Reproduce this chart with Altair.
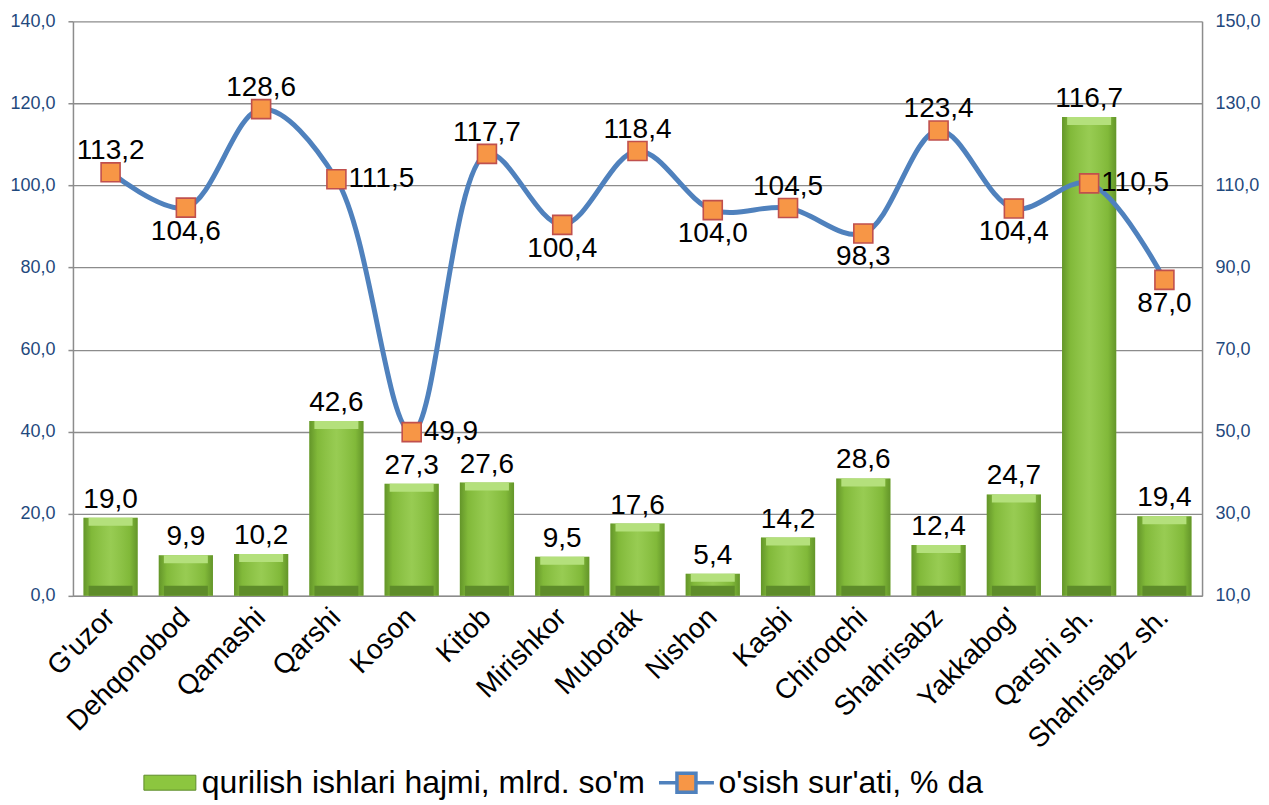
import altair as alt
import pandas as pd

categories = ["G'uzor", "Dehqonobod", "Qamashi", "Qarshi", "Koson", "Kitob",
              "Mirishkor", "Muborak", "Nishon", "Kasbi", "Chiroqchi",
              "Shahrisabz", "Yakkabog'", "Qarshi sh.", "Shahrisabz sh."]
volume = [19.0, 9.9, 10.2, 42.6, 27.3, 27.6, 9.5, 17.6, 5.4, 14.2, 28.6,
          12.4, 24.7, 116.7, 19.4]
growth = [113.2, 104.6, 128.6, 111.5, 49.9, 117.7, 100.4, 118.4, 104.0,
          104.5, 98.3, 123.4, 104.4, 110.5, 87.0]
growth_label_side = ["above", "below", "above", "right", "right", "above",
                     "below", "above", "below", "above", "below", "above",
                     "below", "right", "below"]

bar_name = "qurilish ishlari hajmi, mlrd. so'm"
line_name = "o'sish sur'ati, % da"


def comma(v):
    return f"{v:.1f}".replace(".", ",")


df = pd.DataFrame({
    "district": categories,
    "volume": volume,
    "growth": growth,
    "side": growth_label_side,
})
df["volume_label"] = [comma(v) for v in volume]
df["growth_label"] = [comma(v) for v in growth]
df["bar_series"] = bar_name
df["line_series"] = line_name
df["base_zero"] = 0.0

FONT = "Liberation Sans"
GRID = "#8c8c8c"
AXIS_LABEL = "#1F497D"
LABEL_SIZE = 28
comma_expr = "replace(format(datum.value, '.1f'), '.', ',')"

x_enc = alt.X(
    "district:N", sort=categories, title=None,
    scale=alt.Scale(paddingInner=0.28, paddingOuter=0.14),
    axis=alt.Axis(labelAngle=-45, labelAlign="right", labelBaseline="middle",
                  labelFontSize=28, labelColor="black", labelFont=FONT,
                  ticks=False, domainColor=GRID, domainWidth=1.5,
                  labelPadding=17, labelLimit=400),
)

y_left_scale = alt.Scale(domain=[0, 140], nice=False, zero=True)
y_right_scale = alt.Scale(domain=[10, 150], nice=False, zero=False)

left_axis = alt.Axis(orient="left", values=list(range(0, 141, 20)),
                     labelExpr=comma_expr, title=None, grid=True,
                     gridColor=GRID, gridWidth=1.3, domainColor=GRID,
                     domainWidth=1.5, tickColor=GRID, tickSize=5,
                     tickWidth=1.5, labelColor=AXIS_LABEL, labelFontSize=18,
                     labelFont=FONT, labelPadding=13)
right_axis = alt.Axis(orient="right", values=list(range(10, 151, 20)),
                      labelExpr=comma_expr, title=None, grid=False,
                      domainColor=GRID, domainWidth=1.5, ticks=False,
                      labelColor=AXIS_LABEL, labelFontSize=18,
                      labelFont=FONT, labelPadding=13)

y_vol = alt.Y("volume:Q", scale=y_left_scale, axis=left_axis, title=None)
y_zero = alt.Y("base_zero:Q", scale=y_left_scale, axis=left_axis, title=None)
y_g = alt.Y("growth:Q", scale=y_right_scale, axis=right_axis, title=None)

bar_path = "M-2.6,-0.75H2.6V0.75H-2.6Z"
line_path = "M-2.75,0H-0.95M0.95,0H2.75M-0.95,-0.95H0.95V0.95H-0.95Z"

bar_legend = alt.Legend(
    title=None, orient="none", legendX=81, legendY=746,
    direction="horizontal", labelFontSize=32, labelFont=FONT,
    labelColor="black", labelLimit=700, symbolSize=400, labelOffset=16,
    symbolType=bar_path, symbolStrokeColor="#5E8C2A", symbolStrokeWidth=1,
    symbolOpacity=1,
)
line_legend = alt.Legend(
    title=None, orient="none", legendX=598, legendY=746,
    direction="horizontal", labelFontSize=32, labelFont=FONT,
    labelColor="black", labelLimit=700, symbolSize=400, labelOffset=16,
    symbolType=line_path, symbolFillColor="#F79646", symbolStrokeWidth=3.5,
    symbolOpacity=1,
)

base = alt.Chart(df)

bars = base.mark_bar().encode(
    x=x_enc,
    y=y_vol,
    fill=alt.Fill("bar_series:N",
                  scale=alt.Scale(domain=[bar_name], range=["#8CC63F"]),
                  legend=bar_legend),
)

shade = base.mark_bar(
    fill=alt.Gradient(
        gradient="linear", x1=0, x2=1, y1=0, y2=0,
        stops=[
            alt.GradientStop(offset=0, color="rgba(50,90,15,0.45)"),
            alt.GradientStop(offset=0.15, color="rgba(50,90,15,0.12)"),
            alt.GradientStop(offset=0.5, color="rgba(255,255,255,0.10)"),
            alt.GradientStop(offset=0.85, color="rgba(50,90,15,0.12)"),
            alt.GradientStop(offset=1, color="rgba(50,90,15,0.45)"),
        ],
    )
).encode(x=x_enc, y=y_vol)

top_bevel = base.mark_tick(color="#B4E07C", thickness=8, size=44,
                           yOffset=4, opacity=1).encode(x=x_enc, y=y_vol)

bottom_bevel = base.mark_tick(color="#5E8C2A", thickness=10, size=44,
                              yOffset=-5, opacity=1).encode(x=x_enc, y=y_zero)

bar_text = base.mark_text(baseline="alphabetic", dy=-10, fontSize=LABEL_SIZE,
                          font=FONT, color="black").encode(
    x=x_enc, y=y_vol, text="volume_label:N")

left_layer = alt.layer(bars, shade, top_bevel, bottom_bevel, bar_text)

line = base.mark_line(interpolate="catmull-rom", strokeWidth=5).encode(
    x=x_enc,
    y=y_g,
    stroke=alt.Stroke("line_series:N",
                      scale=alt.Scale(domain=[line_name], range=["#4F81BD"]),
                      legend=line_legend),
)

points = base.mark_square(size=361, fill="#F79646", stroke="#C0504D",
                          strokeWidth=1.6, opacity=1).encode(x=x_enc, y=y_g)

above = base.mark_text(baseline="alphabetic", dy=-13, fontSize=LABEL_SIZE,
                       font=FONT, color="black").encode(
    x=x_enc, y=y_g, text="growth_label:N"
).transform_filter(alt.datum.side == "above")

below = base.mark_text(baseline="top", dy=10, fontSize=LABEL_SIZE,
                       font=FONT, color="black").encode(
    x=x_enc, y=y_g, text="growth_label:N"
).transform_filter(alt.datum.side == "below")

right = base.mark_text(baseline="middle", align="left", dx=12,
                       fontSize=LABEL_SIZE, font=FONT, color="black").encode(
    x=x_enc, y=y_g, text="growth_label:N"
).transform_filter(alt.datum.side == "right")

right_layer = alt.layer(line, points, above, below, right)

chart = alt.layer(left_layer, right_layer).resolve_scale(
    y="independent"
).properties(
    width=1130, height=575,
    padding={"left": 1, "top": 4, "right": 0, "bottom": 2},
).configure(font=FONT).configure_view(stroke=None)

chart.save("out.html", embed_options={"renderer": "svg", "actions": False})
